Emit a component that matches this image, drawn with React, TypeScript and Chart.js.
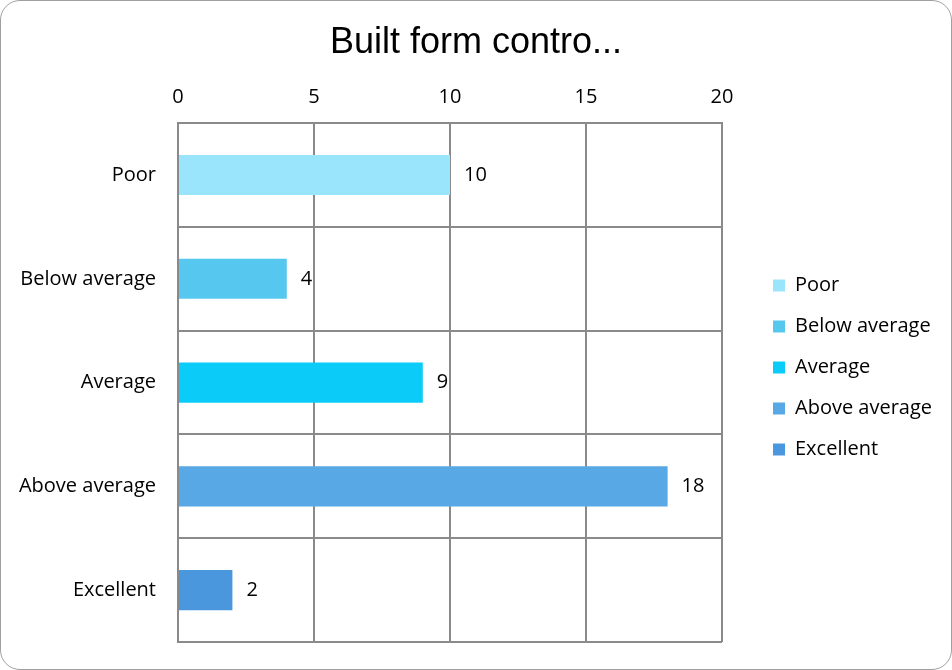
import React, { useEffect, useRef } from "react";
import { Chart, registerables } from "chart.js";

Chart.register(...registerables);

const categories = ["Poor", "Below average", "Average", "Above average", "Excellent"];
const values = [10, 4, 9, 18, 2];
const barColors = ["#9AE4FC", "#56C8EF", "#0BCBF9", "#57A8E4", "#4A97DD"];
const titleText = "Built form contro...";
const xMin = 0;
const xMax = 20;
const xStep = 5;

const LABEL_FONT = "'Open Sans', 'Noto Sans', sans-serif";
const FONT_SIZE = 20;

const valueLabelPlugin = {
  id: "valueLabels",
  afterDatasetsDraw(chart: any) {
    const ctx = chart.ctx;
    const meta = chart.getDatasetMeta(0);
    ctx.save();
    ctx.font = `${FONT_SIZE}px ${LABEL_FONT}`;
    ctx.fillStyle = "#000";
    ctx.textAlign = "left";
    ctx.textBaseline = "middle";
    meta.data.forEach((bar: any, i: number) => {
      ctx.fillText(String(values[i]), bar.x + 14, bar.y);
    });
    ctx.restore();
  },
};

// Keeps a gap between the plot and the legend, and lowers the legend a little.
const legendPlacePlugin = {
  id: "legendPlace",
  beforeLayout(chart: any) {
    const lg = chart.legend;
    if (lg && !lg.__patched) {
      const orig = lg.fit.bind(lg);
      lg.fit = function () {
        orig();
        this.width = 229;
      };
      lg.__patched = true;
    }
  },
  afterLayout(chart: any) {
    const lg = chart.legend;
    if (!lg) return;
    lg.left += 30;
    lg.right += 30;
    lg.top += 36;
    lg.bottom += 36;
  },
};

export default function App() {
  const ref = useRef<HTMLCanvasElement | null>(null);

  useEffect(() => {
    document.body.style.margin = "0";
    if (!ref.current) return;
    const chart = new Chart(ref.current, {
      type: "bar",
      data: {
        labels: categories,
        datasets: [
          {
            data: values,
            backgroundColor: barColors,
            borderWidth: 0,
            categoryPercentage: 1,
            barPercentage: 0.386,
          },
        ],
      },
      options: {
        indexAxis: "y",
        animation: false,
        responsive: true,
        maintainAspectRatio: false,
        layout: { padding: { top: 20, left: 0, right: 0, bottom: 27 } },
        plugins: {
          title: {
            display: true,
            text: titleText,
            color: "#000",
            font: { family: "'Liberation Sans', Arial, sans-serif", size: 36, weight: "normal" },
            padding: { top: 0, bottom: 7 },
          },
          legend: {
            display: true,
            position: "right",
            labels: {
              color: "#000",
              font: { family: LABEL_FONT, size: FONT_SIZE },
              boxWidth: 12,
              boxHeight: 12,
              padding: 21,
              generateLabels: () =>
                categories.map((c, i) => ({
                  text: c,
                  fillStyle: barColors[i],
                  strokeStyle: barColors[i],
                  lineWidth: 0,
                  hidden: false,
                  index: i,
                  datasetIndex: 0,
                })),
            },
          },
          tooltip: { enabled: false },
        },
        scales: {
          x: {
            position: "top",
            min: xMin,
            max: xMax,
            ticks: {
              stepSize: xStep,
              color: "#000",
              font: { family: LABEL_FONT, size: FONT_SIZE },
              padding: 14,
            },
            grid: { color: "#8a8a8a", lineWidth: 2, drawTicks: false },
            border: { color: "#8a8a8a", width: 2 },
          },
          y: {
            afterFit: (scale: any) => {
              scale.width = 177;
              scale.paddingTop = 0;
              scale.paddingBottom = 0;
            },
            ticks: {
              color: "#000",
              font: { family: LABEL_FONT, size: FONT_SIZE },
              padding: 22,
            },
            grid: { color: "#8a8a8a", lineWidth: 2, drawTicks: false, offset: true },
            border: { color: "#8a8a8a", width: 2 },
          },
        },
      },
      plugins: [valueLabelPlugin, legendPlacePlugin],
    });
    return () => chart.destroy();
  }, []);

  return (
    <div
      style={{
        position: "absolute",
        left: 0,
        top: 0,
        width: 952,
        height: 670,
        boxSizing: "border-box",
        border: "1px solid #a0a0a0",
        borderRadius: 20,
        background: "#fff",
        overflow: "hidden",
      }}
    >
      <canvas ref={ref} />
    </div>
  );
}
